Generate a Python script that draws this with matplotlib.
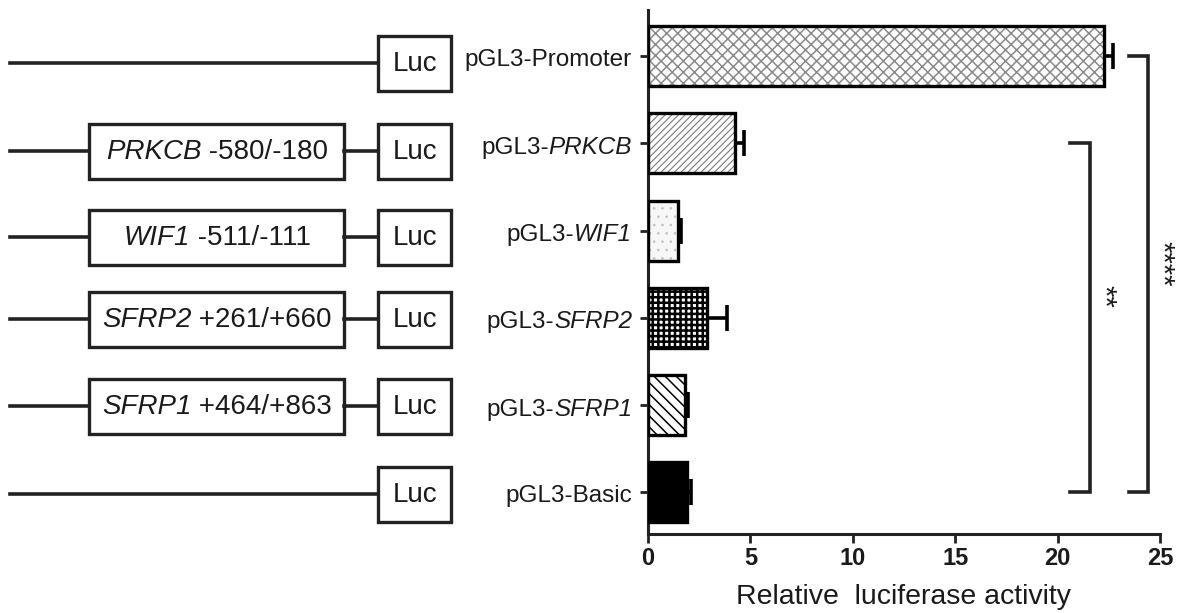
import matplotlib
matplotlib.use("Agg")
import matplotlib.pyplot as plt
from matplotlib.patches import Rectangle
from matplotlib.offsetbox import TextArea, HPacker, AnnotationBbox

plt.rcParams["font.family"] = ["Liberation Sans", "DejaVu Sans"]

# constructs, top to bottom; each label is a list of (text, font style)
labels = [
    [("pGL3-Promoter", "normal")],
    [("pGL3-", "normal"), ("PRKCB", "italic")],
    [("pGL3-", "normal"), ("WIF1", "italic")],
    [("pGL3-", "normal"), ("SFRP2", "italic")],
    [("pGL3-", "normal"), ("SFRP1", "italic")],
    [("pGL3-Basic", "normal")],
]
values = [22.25, 4.25, 1.45, 2.9, 1.8, 1.9]
errors = [0.45, 0.45, 0.17, 0.95, 0.15, 0.2]

# schematic inserts (None = empty vector)
inserts = [
    None,
    [("PRKCB", "italic"), (" -580/-180", "normal")],
    [("WIF1", "italic"), (" -511/-111", "normal")],
    [("SFRP2", "italic"), (" +261/+660", "normal")],
    [("SFRP1", "italic"), (" +464/+863", "normal")],
    None,
]

# significance brackets: (top row, bottom row, label)
brackets = [(1, 5, "**"), (0, 5, "****")]

# bar fill styles: (facecolor, hatch, hatch colour, hatch linewidth)
styles = [
    ("white", "xxx", "#8a8a8a", 1.1),
    ("white", "/////", "#7a7a7a", 0.8),
    ("#f7f7f7", "..", "#c0c0c0", 0.6),
    ("white", "+++", "black", 1.8),
    ("white", "\\\\\\", "black", 1.1),
    ("black", "", "black", 1.0),
]


def packed(parts, size):
    boxes = [TextArea(t, textprops=dict(fontsize=size, fontstyle=st,
                                        color="#1a1a1a"))
             for t, st in parts]
    return HPacker(children=boxes, align="baseline", pad=0, sep=0)


W, H = 1177, 613
fig = plt.figure(figsize=(W / 100, H / 100), dpi=100)

ax = fig.add_axes([648 / W, 79 / H, 512 / W, 524 / H])
ys = list(range(len(values) - 1, -1, -1))
bar_h = 0.69

for y, v, (fc, hatch, hc, hlw) in zip(ys, values, styles):
    with plt.rc_context({"hatch.linewidth": hlw}):
        b = ax.barh(y, v, height=bar_h, color=fc, edgecolor=hc, linewidth=0,
                    hatch=hatch, zorder=2)
    for p in b:
        if hasattr(p, "set_hatch_linewidth"):
            p.set_hatch_linewidth(hlw)
    ax.barh(y, v, height=bar_h, fill=False, edgecolor="black", linewidth=2.4,
            zorder=3)

ax.errorbar(values, ys, xerr=[[0] * len(values), errors], fmt="none",
            ecolor="black", elinewidth=2.6, capsize=9.5, capthick=2.6, zorder=1)

ax.set_xlim(0, 25)
ax.set_ylim(-0.48, 5.53)
ax.set_xticks([0, 5, 10, 15, 20, 25])
ax.set_yticks(ys)
ax.set_yticklabels([""] * len(ys))
for t in ax.get_xticklabels():
    t.set_fontweight("bold")
    t.set_fontsize(17)
ax.tick_params(axis="x", length=6.5, width=2, pad=3, color="#222222",
               labelcolor="#1a1a1a")
ax.tick_params(axis="y", length=6, width=2, pad=5, color="#222222")
ax.set_xlabel("Relative  luciferase activity", fontsize=20.5, labelpad=10,
              color="#1a1a1a")

for y, parts in zip(ys, labels):
    ab = AnnotationBbox(packed(parts, 17.5), (0, y),
                        xycoords=("axes fraction", "data"),
                        xybox=(-11.5, -3), boxcoords="offset points",
                        box_alignment=(1, 0.5), frameon=False, pad=0,
                        annotation_clip=False)
    ax.add_artist(ab)

for s in ["top", "right"]:
    ax.spines[s].set_visible(False)
for s in ["left", "bottom"]:
    ax.spines[s].set_linewidth(2.2)
    ax.spines[s].set_color("#222222")

# brackets: arm start, vertical line, right edge of the star label, label y
br_pos = {"**": (20.6, 21.6, 22.95, 2.24), "****": (23.5, 24.4, 25.78, 2.62)}
for top, bot, txt in brackets:
    x0, x1, xt, ymid = br_pos[txt]
    yt, yb = ys[top], ys[bot]
    ax.plot([x0, x1, x1, x0], [yt, yt, yb, yb], color="#222222", linewidth=2.6,
            clip_on=False, solid_joinstyle="miter", zorder=4)
    ax.text(xt, ymid, txt, rotation=270, ha="right", va="center",
            fontsize=21, clip_on=False, color="#1a1a1a")

# schematic constructs on the left, in pixel coordinates
ax0 = fig.add_axes([0, 0, 1, 1], zorder=-1)
ax0.set_xlim(0, W)
ax0.set_ylim(H, 0)
ax0.axis("off")

row_y = [63, 151, 237, 319, 406, 494]
box_h = 55
for ry, ins in zip(row_y, inserts):
    if ins is None:
        ax0.plot([10, 378], [ry, ry], color="#222222", linewidth=2.6)
    else:
        ax0.plot([10, 89], [ry, ry], color="#222222", linewidth=2.6)
        ax0.plot([344, 378], [ry, ry], color="#222222", linewidth=2.6)
        ax0.add_patch(Rectangle((89, ry - box_h / 2), 255, box_h, fill=False,
                                edgecolor="#222222", linewidth=2.4))
        ab = AnnotationBbox(packed(ins, 20), (217, ry + 1), xycoords="data",
                            box_alignment=(0.5, 0.5), frameon=False, pad=0)
        ax0.add_artist(ab)
    ax0.add_patch(Rectangle((378, ry - box_h / 2), 73, box_h, fill=False,
                            edgecolor="#222222", linewidth=2.4))
    ax0.text(415, ry + 1, "Luc", ha="center", va="center", fontsize=20,
             color="#1a1a1a")

fig.savefig("out.png", dpi=100)
